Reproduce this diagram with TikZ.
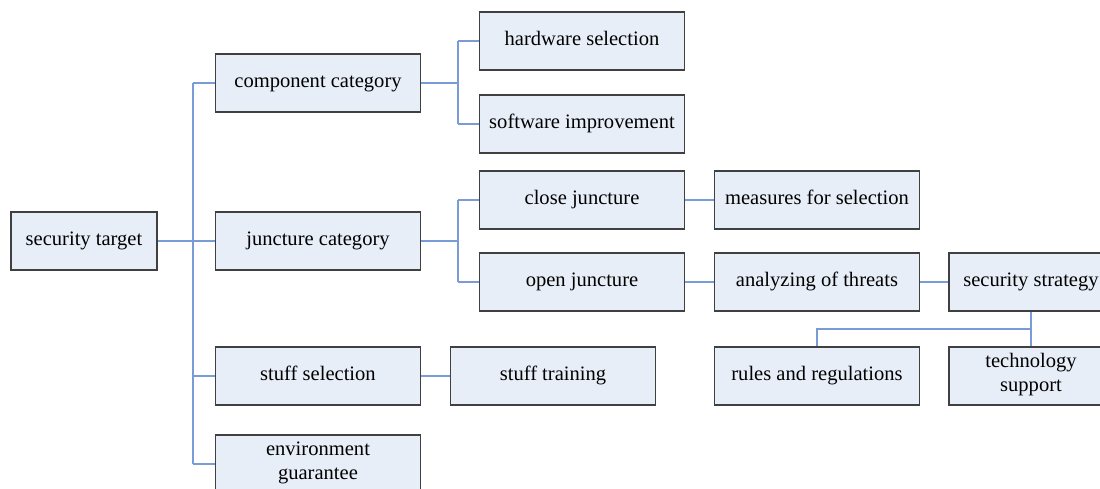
\documentclass[tikz,border=0pt]{standalone}
\usepackage{fontspec}
\setmainfont{Liberation Serif}
\definecolor{boxfill}{RGB}{232,238,248}
\definecolor{boxline}{RGB}{64,64,64}
\definecolor{linkblue}{RGB}{122,156,214}
\begin{document}
\begin{tikzpicture}[x=0.02cm,y=-0.02cm,
	box/.style={rectangle, draw=boxline, fill=boxfill, line width=0.6pt, minimum width=4.1cm, minimum height=1.16cm, inner sep=1pt, align=center, font=\fontsize{11.7}{13.6}\selectfont, execute at begin node=\strut, execute at end node=\strut},
	link/.style={-, line width=0.7pt, linkblue}]
	\useasboundingbox (0,0) rectangle (1100,489);

	% les boites
	\node[box, minimum width=2.92cm] (target) at (84,241) {security target};
	\node[box] (compcat) at (318,83) {component category};
	\node[box] (junccat) at (318,241) {juncture category};
	\node[box] (stuffsel) at (318,376) {stuff selection};
	\node[box] (envgua) at (318,464) {environment\\guarantee};
	\node[box] (hardsel) at (582,41) {hardware selection};
	\node[box] (softimp) at (582,124) {software improvement};
	\node[box] (closej) at (582,200) {close juncture};
	\node[box] (openj) at (582,282) {open juncture};
	\node[box] (measures) at (817,200) {measures for selection};
	\node[box] (analyz) at (817,282) {analyzing of threats};
	\node[box, minimum width=3.28cm] (strategy) at (1031,282) {security strategy};
	\node[box] (stufftrain) at (553,376) {stuff training};
	\node[box] (rules) at (817,376) {rules and regulations};
	\node[box, minimum width=3.28cm] (techsup) at (1031,376) {technology\\support};

	% les liens
	\coordinate (T) at (193,241);
	\coordinate (C) at (458,83);
	\coordinate (J) at (458,241);
	\coordinate (S) at (1031,329);
	\draw[link] (target.east) -- (T);
	\draw[link] (T |- compcat) -- (T |- envgua);
	\foreach \n in {compcat,junccat,stuffsel,envgua}
		\draw[link] (T |- \n) -- (\n.west);
	\draw[link] (compcat.east) -- (C);
	\draw[link] (C |- hardsel) -- (C |- softimp);
	\foreach \n in {hardsel,softimp}
		\draw[link] (C |- \n) -- (\n.west);
	\draw[link] (junccat.east) -- (J);
	\draw[link] (J |- closej) -- (J |- openj);
	\foreach \n in {closej,openj}
		\draw[link] (J |- \n) -- (\n.west);
	\draw[link] (closej) -- (measures);
	\draw[link] (openj) -- (analyz);
	\draw[link] (analyz) -- (strategy);
	\draw[link] (stuffsel) -- (stufftrain);
	\draw[link] (strategy.south) -- (techsup.north);
	\draw[link] (S) -- (S -| rules) -- (rules.north);

\end{tikzpicture}
\end{document}
